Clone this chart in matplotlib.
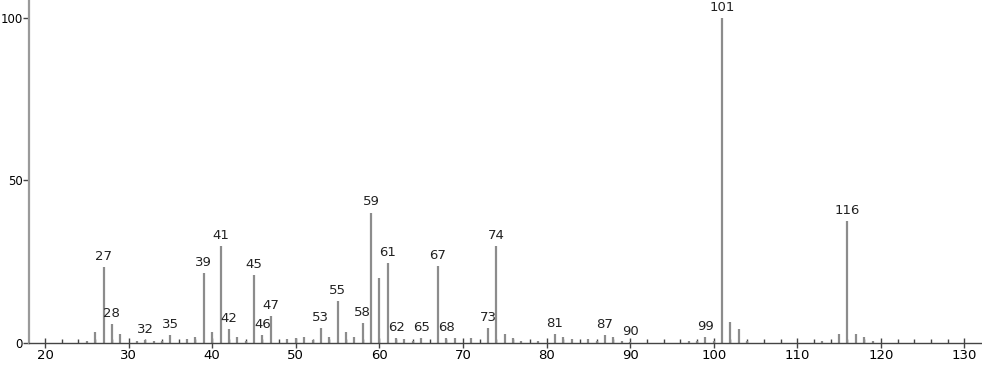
import matplotlib.pyplot as plt
import numpy as np

# m/z and relative intensity
mz = [25, 26, 27, 28, 29, 31, 32, 33, 34, 35, 37, 38, 39, 40, 41, 42, 43, 44,
      45, 46, 47, 49, 50, 51, 52, 53, 54, 55, 56, 57, 58, 59, 60, 61, 62, 63,
      64, 65, 67, 68, 69, 71, 73, 74, 75, 76, 77, 79, 81, 82, 83, 85, 86, 87,
      88, 89, 90, 97, 98, 99, 100, 101, 102, 103, 104, 113, 115, 116, 117,
      118, 119]
intensity = [0.5, 3.3, 23.4, 5.7, 2.9, 0.5, 0.9, 0.7, 0.5, 2.5, 1.1, 1.8, 21.5,
             3.3, 29.8, 4.4, 1.7, 0.6, 20.9, 2.5, 8.4, 1.2, 1.6, 1.7, 0.8, 4.5,
             1.9, 13.0, 3.3, 1.9, 6.0, 40.1, 19.9, 24.7, 1.6, 1.3, 0.6, 1.6,
             23.7, 1.6, 1.6, 1.4, 4.6, 29.8, 2.7, 1.6, 0.5, 0.6, 2.7, 1.9, 1.1,
             1.1, 0.6, 2.5, 1.7, 0.5, 0.3, 0.6, 0.7, 1.9, 0.7, 100.0, 6.4, 4.4,
             0.6, 0.6, 2.7, 37.5, 2.8, 1.7, 0.6]
labeled = [27, 28, 32, 35, 39, 41, 42, 45, 46, 47, 53, 55, 58, 59, 61, 62, 65,
           67, 68, 73, 74, 81, 87, 90, 99, 101, 116]

fig = plt.figure(figsize=(9.82, 3.65), dpi=100)
ax = fig.add_axes([29 / 982, 22 / 365, 953 / 982, 343 / 365])

ax.vlines(mz, 0, intensity, colors='#8c8c8c', linewidth=1.6)

for m, v in zip(mz, intensity):
    if m in labeled:
        ax.annotate(str(m), (m, v), xytext=(0, 3), textcoords='offset points',
                    ha='center', va='bottom', fontsize=9.5, color='#222222')

ax.set_xlim(18.08, 132.1)
ax.set_ylim(0, 105.5)
ax.set_xticks(np.arange(20, 131, 10))
ax.set_xticks(np.arange(20, 132, 2), minor=True)
ax.set_yticks([0, 50, 100])

for s in ['top', 'right']:
    ax.spines[s].set_visible(False)
ax.spines['left'].set_color('#9a9a9a')
ax.spines['left'].set_linewidth(1.6)
ax.spines['bottom'].set_color('#444444')
ax.spines['bottom'].set_linewidth(1.0)

ax.tick_params(axis='x', which='major', direction='inout', length=7,
               width=1, color='#444444', labelsize=9.5, pad=1)
ax.tick_params(axis='x', which='minor', direction='in', length=3,
               width=1, color='#444444')
ax.tick_params(axis='y', direction='out', length=4, width=1,
               color='#444444', labelsize=8.5, pad=0.5)

fig.savefig('out.png', dpi=100)
